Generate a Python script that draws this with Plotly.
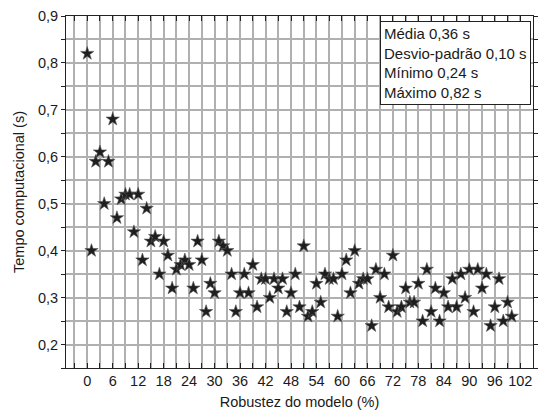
import plotly.graph_objects as go

robustez = list(range(0, 101))
tempo = [
    0.82, 0.40, 0.59, 0.61, 0.50, 0.59, 0.68, 0.47, 0.51, 0.52,
    0.52, 0.44, 0.52, 0.38, 0.49, 0.42, 0.43, 0.35, 0.42, 0.39,
    0.32, 0.36, 0.37, 0.38, 0.37, 0.32, 0.42, 0.38, 0.27, 0.33,
    0.31, 0.42, 0.41, 0.40, 0.35, 0.27, 0.31, 0.35, 0.31, 0.37,
    0.28, 0.34, 0.34, 0.30, 0.34, 0.32, 0.34, 0.27, 0.31, 0.35,
    0.28, 0.41, 0.26, 0.27, 0.33, 0.29, 0.35, 0.34, 0.34, 0.26,
    0.35, 0.38, 0.31, 0.40, 0.33, 0.34, 0.34, 0.24, 0.36, 0.30,
    0.35, 0.28, 0.39, 0.27, 0.28, 0.32, 0.29, 0.29, 0.33, 0.25,
    0.36, 0.27, 0.32, 0.25, 0.31, 0.28, 0.34, 0.28, 0.35, 0.30,
    0.36, 0.27, 0.36, 0.32, 0.35, 0.24, 0.28, 0.34, 0.25, 0.29,
    0.26,
]
x_ticks = list(range(0, 103, 6))
y_ticks = [0.2, 0.3, 0.4, 0.5, 0.6, 0.7, 0.8, 0.9]
stats_lines = ["Média 0,36 s", "Desvio-padrão 0,10 s", "Mínimo 0,24 s", "Máximo 0,82 s"]

FONT = "Liberation Sans, Arial, sans-serif"
GRID = "#b0b0b0"
GW = 2

fig = go.Figure()
fig.add_trace(go.Scatter(
    x=robustez, y=tempo, mode="markers",
    marker=dict(symbol="star", size=10, color="#1e1e1e",
                line=dict(color="#555555", width=0.6)),
    showlegend=False,
))

fig.update_layout(
    template="none",
    width=547, height=418,
    margin=dict(l=66, r=14, t=16, b=50),
    paper_bgcolor="white", plot_bgcolor="white",
    separators=",.",
    font=dict(family=FONT, size=14, color="#1a1a1a"),
    xaxis=dict(
        range=[-5, 105],
        tickmode="array", tickvals=x_ticks,
        ticks="inside", ticklen=5, tickcolor="#222", tickwidth=1,
        showline=True, linecolor="#222", linewidth=1, mirror="ticks",
        showgrid=True, gridcolor=GRID, gridwidth=GW,
        zeroline=False,
        minor=dict(dtick=3, tick0=0, ticks="inside", ticklen=5,
                   tickcolor="#222", showgrid=True, gridcolor=GRID, gridwidth=GW),
        title=dict(text="Robustez do modelo (%)", font=dict(size=14.5), standoff=8),
        tickfont=dict(size=14.5),
    ),
    yaxis=dict(
        range=[0.15, 0.9],
        tickmode="array", tickvals=y_ticks, tickformat=".1f",
        ticks="outside", ticklen=4, tickcolor="#222", tickwidth=1,
        showline=True, linecolor="#222", linewidth=1, mirror="ticks",
        showgrid=True, gridcolor=GRID, gridwidth=GW,
        zeroline=False,
        minor=dict(dtick=0.05, tick0=0.15, ticks="outside", ticklen=4,
                   tickcolor="#222", showgrid=True, gridcolor=GRID, gridwidth=GW),
        title=dict(text="Tempo computacional (s)", font=dict(size=14.5), standoff=9),
        tickfont=dict(size=14.5),
    ),
)

fig.add_annotation(
    x=0.995, y=0.985, xref="paper", yref="paper",
    xanchor="right", yanchor="top",
    text="<br>".join(stats_lines), align="left", showarrow=False,
    font=dict(size=15, family=FONT, color="#1a1a1a"),
    bgcolor="white", bordercolor="#222", borderwidth=1, borderpad=3,
)

fig.write_html("out.html")
